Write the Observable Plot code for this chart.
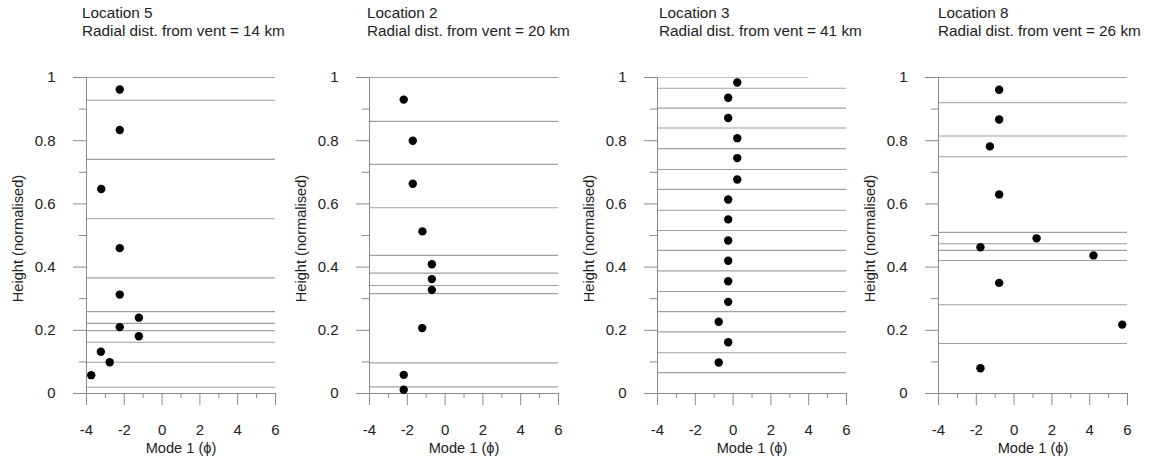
<!DOCTYPE html>
<html><head><meta charset="utf-8">
<script src="https://cdn.jsdelivr.net/npm/d3@7"></script>
<script src="https://cdn.jsdelivr.net/npm/@observablehq/plot@0.6"></script>
<style>
body{margin:0;background:#fff;font-family:"Liberation Sans",Arial,sans-serif;}
#root{position:relative;width:1153px;height:462px;overflow:hidden;}
.panel{position:absolute;top:0;}
.title{position:absolute;top:4px;font-size:15.3px;line-height:17.5px;color:#222;white-space:nowrap;}
</style></head><body><div id="root"></div>
<script>
// ---- data ----
const locations = ["Location 5", "Location 2", "Location 3", "Location 8"];
const distancesKm = [14, 20, 41, 26];
const xTicks = [-4, -2, 0, 2, 4, 6];
const xMinorTicks = [-3, -1, 1, 3, 5];
const yTicks = [0, 0.2, 0.4, 0.6, 0.8, 1];
const yMinorTicks = [0.1, 0.3, 0.5, 0.7, 0.9];
const xLabel = "Mode 1 (\u03d5)";
const yLabel = "Height (normalised)";

const mode1_loc5 = [-2.24, -2.24, -3.22, -2.24, -2.24, -1.23, -2.24, -1.23, -3.24, -2.77, -3.75];
const height_loc5 = [0.962, 0.834, 0.647, 0.46, 0.313, 0.24, 0.21, 0.181, 0.132, 0.099, 0.058];
const bounds_loc5 = [1.0, 0.928, 0.741, 0.553, 0.366, 0.259, 0.222, 0.199, 0.162, 0.099, 0.02];

const mode1_loc2 = [-2.19, -1.71, -1.71, -1.2, -0.7, -0.7, -0.7, -1.21, -2.19, -2.19];
const height_loc2 = [0.93, 0.80, 0.664, 0.513, 0.409, 0.362, 0.328, 0.207, 0.059, 0.012];
const bounds_loc2 = [1.0, 0.861, 0.725, 0.588, 0.437, 0.381, 0.342, 0.316, 0.097, 0.021];

const mode1_loc3 = [0.22, -0.26, -0.26, 0.22, 0.22, 0.22, -0.26, -0.26, -0.26, -0.26, -0.26, -0.26, -0.76, -0.26, -0.76];
const height_loc3 = [0.984, 0.936, 0.872, 0.808, 0.745, 0.677, 0.614, 0.551, 0.484, 0.42, 0.355, 0.29, 0.227, 0.162, 0.098];
const bounds_loc3 = [0.966, 0.903, 0.840, 0.775, 0.709, 0.646, 0.580, 0.516, 0.453, 0.388, 0.323, 0.259, 0.195, 0.129, 0.066];

const mode1_loc8 = [-0.79, -0.79, -1.28, -0.79, 1.19, -1.78, 4.2, -0.79, 5.72, -1.78];
const height_loc8 = [0.961, 0.867, 0.782, 0.63, 0.491, 0.463, 0.437, 0.35, 0.218, 0.08];
const bounds_loc8 = [1.0, 0.92, 0.815, 0.749, 0.51, 0.474, 0.453, 0.421, 0.281, 0.158];

// top line of Location 3 ends at x = 4
const topLine_loc3 = [1.0];
const topLineEnd_loc3 = 4;

const panels = [
  {mode1: mode1_loc5, height: height_loc5, bounds: bounds_loc5, extra: []},
  {mode1: mode1_loc2, height: height_loc2, bounds: bounds_loc2, extra: []},
  {mode1: mode1_loc3, height: height_loc3, bounds: bounds_loc3, extra: topLine_loc3, extraEnd: topLineEnd_loc3},
  {mode1: mode1_loc8, height: height_loc8, bounds: bounds_loc8, extra: []}
];

// ---- layout ----
const svgLeft = [0, 283, 571, 852];
const titleLeft = [82, 367, 659, 938];
const gridColor = "#a0a0a0";
const axisColor = "#8a8a8a";
const textColor = "#222";
const tickFont = 15;
const labelFont = 14.6;

const root = document.getElementById("root");
panels.forEach((p, i) => {
  const pts = p.mode1.map((x, k) => ({x, y: p.height[k]}));
  const chart = Plot.plot({
    width: 287, height: 462,
    marginLeft: 86, marginRight: 12, marginTop: 77, marginBottom: 69,
    x: {domain: [-4, 6]},
    y: {domain: [0, 1]},
    style: {fontFamily: "'Liberation Sans', Arial, sans-serif", fontSize: "14px", color: textColor, background: "transparent", overflow: "visible"},
    marks: [
      Plot.ruleY(p.bounds, {x1: -4, x2: 6, stroke: gridColor, strokeWidth: 1.1}),
      Plot.ruleY(p.extra, {x1: -4, x2: p.extraEnd ?? 6, stroke: "#c4c4c4", strokeWidth: 1.1}),
      Plot.ruleX([-4], {y1: 0, y2: 1, stroke: axisColor}),
      Plot.ruleY([0], {x1: -4, x2: 6, stroke: axisColor}),
      Plot.axisY(yTicks, {tickSize: 13, tickPadding: 18, stroke: axisColor, fill: textColor, fontSize: tickFont, tickFormat: d => String(d), label: null}),
      Plot.axisY(yMinorTicks, {tickSize: 7, stroke: axisColor, tickFormat: () => "", label: null}),
      Plot.axisX(xTicks, {tickSize: 12, tickPadding: 19, stroke: axisColor, fill: textColor, fontSize: tickFont, tickFormat: d => String(d), label: null}),
      Plot.axisX(xMinorTicks, {tickSize: 5, stroke: axisColor, tickFormat: () => "", label: null}),
      Plot.dot(pts, {x: "x", y: "y", r: 4.2, fill: "#000", stroke: "none"}),
      Plot.text([yLabel], {frameAnchor: "left", dx: -68, dy: 3, rotate: -90, textAnchor: "middle", lineAnchor: "middle", fill: textColor, fontSize: labelFont}),
      Plot.text([xLabel], {frameAnchor: "bottom", dy: 55, textAnchor: "middle", lineAnchor: "middle", fill: textColor, fontSize: labelFont})
    ]
  });
  const wrap = document.createElement("div");
  wrap.className = "panel";
  wrap.style.left = svgLeft[i] + "px";
  wrap.appendChild(chart);
  root.appendChild(wrap);

  const t = document.createElement("div");
  t.className = "title";
  t.style.left = titleLeft[i] + "px";
  t.innerHTML = locations[i] + "<br>Radial dist. from vent = " + distancesKm[i] + " km";
  root.appendChild(t);
});
</script>
</body></html>
